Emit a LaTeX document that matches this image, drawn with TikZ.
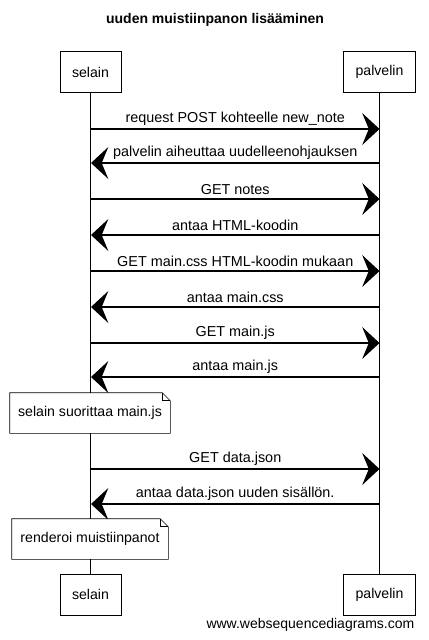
\documentclass[tikz,border=0pt]{standalone}
\usepackage{fontspec}
\setmainfont{Liberation Sans}
\usetikzlibrary{arrows.meta}

\tikzset{
  actor/.style = {draw, minimum height=30.75pt, inner xsep=9pt, font=\fontsize{10.6}{12}\selectfont},
  msg/.style = {-{Stealth[length=13pt, width=24pt, inset=5pt]}, line width=0.8pt},
  msgtext/.style = {above, inner sep=2.5pt, font=\fontsize{10.8}{12}\selectfont},
  notebox/.style = {fill=white, minimum height=30pt, font=\fontsize{10.6}{12}\selectfont}
}

\begin{document}
\begin{tikzpicture}[x=0.75pt, y=-0.75pt]
\useasboundingbox (0,0) rectangle (429,640);
\node[font=\bfseries\fontsize{10.5}{12}\selectfont] (title) at (215,20) {uuden muistiinpanon lisääminen};
\node[actor] (selTop) at (90.5,72) {selain};
\node[actor] (palTop) at (379.5,72) {palvelin};
\node[actor] (selBot) at (90.5,594.5) {selain};
\node[actor] (palBot) at (379.5,594.5) {palvelin};
\draw (selTop) -- (selBot);
\draw (palTop) -- (palBot);

\foreach \i/\y in {1/129,2/163,3/199,4/235,5/271,6/307,7/343,8/377,9/469,10/504}{
  \coordinate (s\i) at (91,\y);
  \coordinate (p\i) at (379.5,\y);
}

\draw[msg] (s1) -- node[msgtext] {request POST kohteelle new\_note} (p1);
\draw[msg] (p2) -- node[msgtext] {palvelin aiheuttaa uudelleenohjauksen} (s2);
\draw[msg] (s3) -- node[msgtext] {GET notes} (p3);
\draw[msg] (p4) -- node[msgtext] {antaa HTML-koodin} (s4);
\draw[msg] (s5) -- node[msgtext] {GET main.css HTML-koodin mukaan} (p5);
\draw[msg] (p6) -- node[msgtext] {antaa main.css} (s6);
\draw[msg] (s7) -- node[msgtext] {GET main.js} (p7);
\draw[msg] (p8) -- node[msgtext] {antaa main.js} (s8);
\draw[msg] (s9) -- node[msgtext] {GET data.json} (p9);
\draw[msg] (p10) -- node[msgtext] {antaa data.json uuden sisällön.} (s10);

\node[notebox, minimum width=120pt] (note1) at (90,413) {selain suorittaa main.js};
\draw (note1.north west) -- ([xshift=-6pt]note1.north east) -- ([yshift=-6pt]note1.north east)
  -- (note1.south east) -- (note1.south west) -- cycle;
\draw ([xshift=-6pt]note1.north east) |- ([yshift=-6pt]note1.north east);
\node[notebox, minimum width=117pt] (note2) at (90,539) {renderoi muistiinpanot};
\draw (note2.north west) -- ([xshift=-6pt]note2.north east) -- ([yshift=-6pt]note2.north east)
  -- (note2.south east) -- (note2.south west) -- cycle;
\draw ([xshift=-6pt]note2.north east) |- ([yshift=-6pt]note2.north east);

\node[anchor=east, font=\fontsize{10.5}{12}\selectfont] (site) at (419,625) {www.websequencediagrams.com};
\end{tikzpicture}
\end{document}
